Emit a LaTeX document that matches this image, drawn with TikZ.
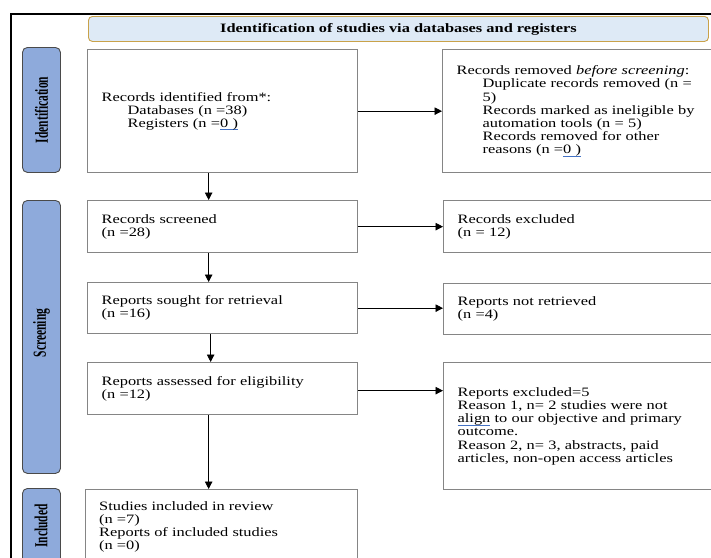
\documentclass[tikz,border=0pt]{standalone}
\usepackage{graphicx}
\usepackage{fontspec}
\setmainfont{Liberation Serif}[FakeStretch=1.28]
\newfontfamily\sidefont{Liberation Serif}
\usetikzlibrary{arrows.meta}
\definecolor{boxgray}{HTML}{858585}
\definecolor{hdrfill}{HTML}{DEEAF6}
\definecolor{hdrline}{HTML}{C9A24A}
\definecolor{sidefill}{HTML}{8EAADB}
\definecolor{sideline}{HTML}{4A4A4A}
\definecolor{ulblue}{HTML}{4472C4}
\newcommand\blueul[1]{\leavevmode\setbox0\hbox{#1}\rlap{\color{ulblue}\rule[-2.6pt]{\wd0}{0.7pt}}#1}
\newcommand\ind{\hspace*{26pt}}
\tikzset{
  boxnode/.style={draw=boxgray, line width=1.3pt, fill=white, anchor=north west,
    inner xsep=14pt, inner ysep=0pt, align=left,
    font=\fontsize{12.8}{13.2}\selectfont},
  txtnode/.style={anchor=north west, inner sep=0pt, align=left,
    font=\fontsize{12.8}{13.2}\selectfont},
  sidebox/.style={draw=sideline, line width=0.9pt, fill=sidefill, rounded corners=5pt,
    anchor=north west, minimum width=38pt, inner sep=0pt},
  sidetext/.style={rotate=90, inner sep=0pt, font=\sidefont\bfseries\fontsize{11.5}{12}\selectfont},
  hdr/.style={draw=hdrline, line width=0.9pt, fill=hdrfill, rounded corners=4pt,
    anchor=north west, minimum width=620pt, minimum height=25pt, inner sep=0pt,
    font=\bfseries\fontsize{12.8}{14}\selectfont},
  arr/.style={line width=0.9pt, -{Triangle[length=7.5pt,width=7.5pt]}}
}
\begin{document}
\begin{tikzpicture}[x=1pt,y=-1pt]
\useasboundingbox (0,0) rectangle (711,557);
\clip (0,0) rectangle (711,557);
\fill[white] (0,0) rectangle (711,557);
% outer frame
\draw[line width=1.6pt] (11,580) -- (11,14) -- (730,14);
% header
\node[hdr] (hdr) at (88,16) {Identification of studies via databases and registers};
% side labels
\node[sidebox, minimum height=125pt] (lid) at (22,47) {};
\node[sidetext] (lidt) at (lid.center) {\scalebox{1}[1.6]{Identification}};
\node[sidebox, minimum height=273pt] (lsc) at (22,200) {};
\node[sidetext] (lsct) at ([yshift=4pt]lsc.center) {\scalebox{1}[1.6]{Screening}};
\node[sidebox, minimum height=110pt] (lin) at (22,488) {};
\node[sidetext] (lint) at (41,526) {\scalebox{1}[1.6]{Included}};
% boxes
\node[boxnode, minimum width=270pt, text width=242pt, minimum height=123pt] (b1) at (87,49)
  {Records identified from*:\\ \ind Databases (n =38)\\ \ind Registers (n =\blueul{0 )}};
\node[boxnode, minimum width=300pt, text width=272pt, minimum height=123pt] (rem) at (442,49)
  {Records removed \textit{before screening}:\\
   \ind Duplicate records removed (n =\\ \ind 5)\\
   \ind Records marked as ineligible by\\ \ind automation tools (n = 5)\\
   \ind Records removed for other\\ \ind reasons (n =\blueul{0 )}};
\node[boxnode, minimum width=270pt, text width=242pt, minimum height=52pt] (scr) at (87,200)
  {Records screened\\(n =28)};
\node[boxnode, minimum width=300pt, text width=272pt, minimum height=52pt] (rex) at (443,200)
  {Records excluded\\(n = 12)};
\node[boxnode, minimum width=270pt, text width=242pt, minimum height=51pt] (sou) at (87,282)
  {Reports sought for retrieval\\(n =16)};
\node[boxnode, minimum width=300pt, text width=272pt, minimum height=51pt] (nrt) at (443,283)
  {Reports not retrieved\\(n =4)};
\node[boxnode, minimum width=270pt, text width=242pt, minimum height=52pt] (ass) at (87,362)
  {Reports assessed for eligibility\\(n =12)};
\node[boxnode, minimum width=300pt, text width=272pt, minimum height=127pt] (exc) at (443,362)
  {Reports excluded=5\\ Reason 1, n= 2 studies were not\\ \blueul{align} to our objective and primary\\ outcome.\\ Reason 2, n= 3, abstracts, paid\\ articles, non-open access articles};
\node[boxnode, minimum width=272pt, minimum height=100pt] (inc) at (85,489) {};
\node[txtnode] (inct) at (99,501)
  {Studies included in review\\(n =7)\\Reports of included studies\\(n =0)};
% connectors
\coordinate (assr) at ([yshift=-2pt]ass.east);
\draw[arr] (b1.east) -- (rem.west |- b1.east);
\draw[arr] (scr.east) -- (rex.west |- scr.east);
\draw[arr] (sou.east) -- (nrt.west |- sou.east);
\draw[arr] (assr) -- (exc.west |- assr);
\draw[arr] ([xshift=-14pt]b1.south) -- ([xshift=-14pt]b1.south |- scr.north);
\draw[arr] ([xshift=-14pt]scr.south) -- ([xshift=-14pt]scr.south |- sou.north);
\draw[arr] ([xshift=-12pt]sou.south) -- ([xshift=-12pt]sou.south |- ass.north);
\draw[arr] ([xshift=-14pt]ass.south) -- ([xshift=-14pt]ass.south |- inc.north);
\end{tikzpicture}
\end{document}
